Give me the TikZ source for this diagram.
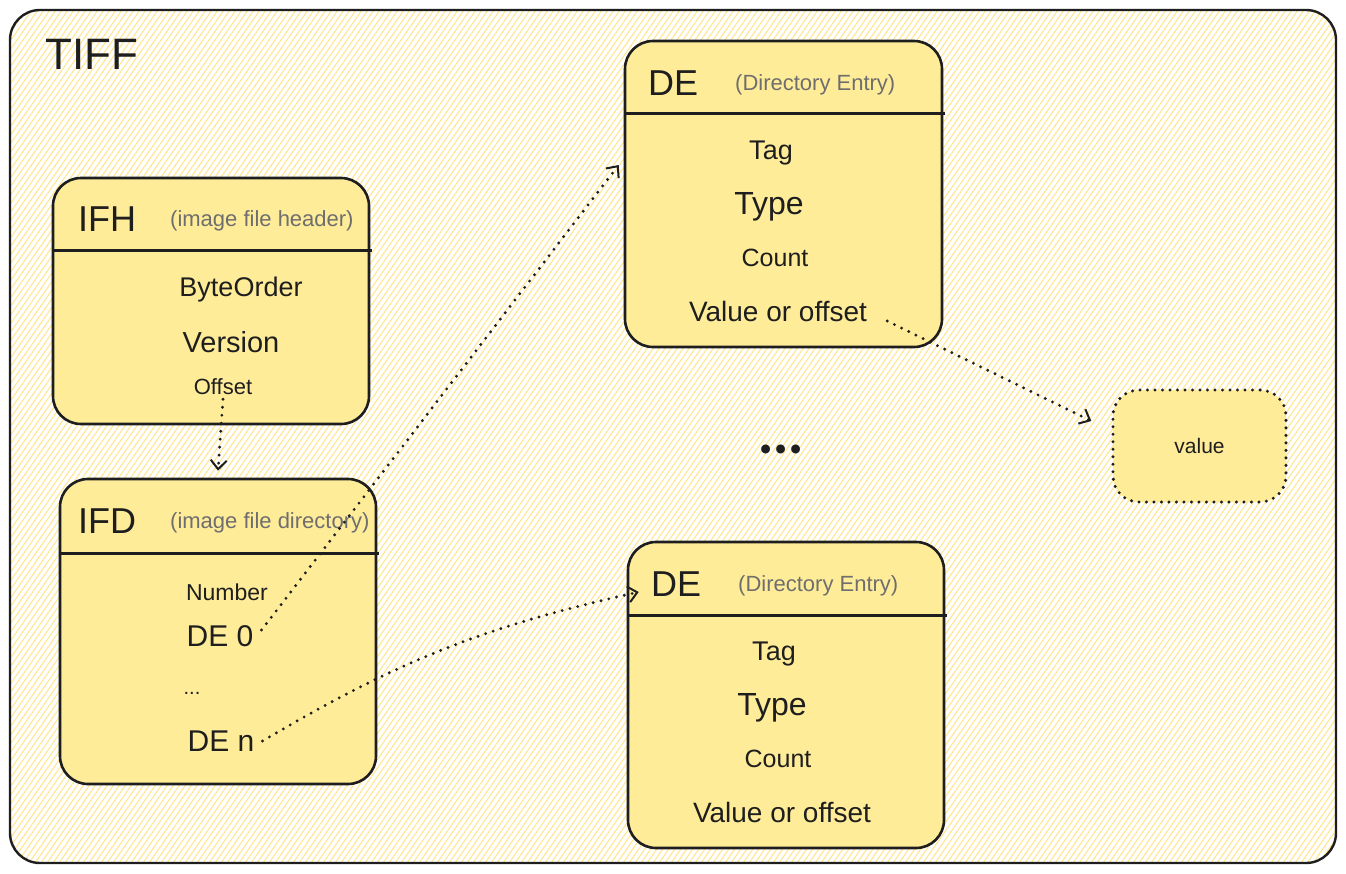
\documentclass[tikz,border=0pt]{standalone}
\usepackage{fontspec}
\setmainfont{Liberation Sans}
\newfontfamily\dotfont{Poppins}
\usetikzlibrary{arrows.meta,calc}
\definecolor{ink}{HTML}{1E1E1E}
\definecolor{fillY}{HTML}{FFEC99}
\definecolor{hatchY}{HTML}{FFE68A}
\definecolor{subgray}{HTML}{6E6E6E}
\begin{document}
\begin{tikzpicture}[x=1pt,y=-1pt,
  hatch/.style={draw=hatchY, line width=1pt},
  frame/.style={draw=ink, line width=2.4pt, rounded corners=30pt},
  box/.style={draw=ink, line width=2.6pt, fill=fillY, rounded corners=28pt, inner sep=0pt},
  vbox/.style={draw=ink, line width=3.4pt, fill=fillY, rounded corners=26pt, inner sep=0pt, dash pattern=on 0pt off 7.5pt, line cap=round},
  sep/.style={draw=ink, line width=2.6pt},
  ttl/.style={font=\fontsize{36}{38}\selectfont, text=ink, anchor=base west, inner sep=0pt},
  sub/.style={font=\fontsize{22}{24}\selectfont, text=subgray, anchor=base west, inner sep=0pt},
  item/.style={text=ink, inner sep=0pt},
  conn/.style={draw=ink, line width=3.2pt, dash pattern=on 0pt off 8pt, line cap=round,
    -{Straight Barb[length=9pt, width=16pt, line width=2pt]}}
]
\useasboundingbox (0,0) rectangle (1346,873);
\fill[white] (0,0) rectangle (1346,873);
\begin{scope}
  \clip[rounded corners=30pt] (10,10) rectangle (1336,863);
  \foreach \i in {-620,-614,...,1346} \draw[hatch] (\i,873) -- ++(611,-873);
\end{scope}
\draw[frame] (10,10) rectangle (1336,863);
\node[ttl, font=\fontsize{44}{46}\selectfont] (tiff) at (45,69) {TIFF};

% IFH
\node[box, minimum width=316pt, minimum height=246pt] (ifh) at (211,301) {};
\draw[sep] ($(ifh.north west)+(0,74)$) -- ($(ifh.north east)+(2,74)$);
\node[ttl] (ifht) at (78,231) {IFH};
\node[sub] (ifhs) at (170,226) {(image file header)};
\node[item, font=\fontsize{27}{29}\selectfont] (byteorder) at (241,290) {ByteOrder};
\node[item, font=\fontsize{29}{31}\selectfont] (version) at (231,342) {Version};
\node[item, font=\fontsize{22}{24}\selectfont] (offset) at (223,387) {Offset};

% IFD
\node[box, minimum width=316pt, minimum height=305pt] (ifd) at (218,631.5) {};
\draw[sep] ($(ifd.north west)+(0,76)$) -- ($(ifd.north east)+(2,76)$);
\node[ttl] (ifdt) at (78,533) {IFD};
\node[sub] (ifds) at (170,528) {(image file directory)};
\node[item, font=\fontsize{23}{25}\selectfont] (number) at (227,592) {Number};
\node[item, font=\fontsize{30}{32}\selectfont] (de0) at (220,636) {DE 0};
\node[item, font=\fontsize{20}{22}\selectfont] (idots) at (192,693) {...};
\node[item, font=\fontsize{30}{32}\selectfont] (den) at (221,741) {DE n};

% DE top
\node[box, minimum width=317pt, minimum height=306pt] (detop) at (783.5,194) {};
\draw[sep] ($(detop.north west)+(0,74)$) -- ($(detop.north east)+(2,74)$);
\node[ttl] (dett) at (648,95) {DE};
\node[sub] (dets) at (735,90) {(Directory Entry)};
\node[item, font=\fontsize{27}{29}\selectfont] (tag1) at (771,153) {Tag};
\node[item, font=\fontsize{32}{34}\selectfont] (type1) at (769,207) {Type};
\node[item, font=\fontsize{25}{27}\selectfont] (count1) at (775,258) {Count};
\node[item, font=\fontsize{28}{30}\selectfont] (valoff1) at (778,311) {Value or offset};

% DE bottom
\node[box, minimum width=316pt, minimum height=306pt] (debot) at (786,695) {};
\draw[sep] ($(debot.north west)+(0,75)$) -- ($(debot.north east)+(2,75)$);
\node[ttl] (debt) at (651,596) {DE};
\node[sub] (debs) at (738,591) {(Directory Entry)};
\node[item, font=\fontsize{27}{29}\selectfont] (tag2) at (774,654) {Tag};
\node[item, font=\fontsize{32}{34}\selectfont] (type2) at (772,708) {Type};
\node[item, font=\fontsize{25}{27}\selectfont] (count2) at (778,759) {Count};
\node[item, font=\fontsize{28}{30}\selectfont] (valoff2) at (782,812) {Value or offset};

% dots
\node[item, font=\dotfont\fontsize{72}{72}\selectfont, anchor=base] (bigdots) at (781,453) {...};

% value
\node[vbox, minimum width=173pt, minimum height=112pt] (value) at (1199.5,446) {};
\node[item, font=\fontsize{21}{23}\selectfont] (valuet) at (value.center) {value};

% connectors
\draw[conn] ([yshift=-4pt]offset.south) -- ([yshift=7pt]ifd.north);
\draw[conn] ([xshift=8pt,yshift=6pt]de0.east) -- ([xshift=-5pt,yshift=29pt]detop.west);
\draw[conn] ([xshift=8pt]den.east) to[bend left=9] ([xshift=12pt,yshift=103pt]debot.west);
\draw[conn] ([xshift=20pt,yshift=-10pt]valoff1.east) -- ([xshift=-20pt,yshift=25pt]value.west);
\end{tikzpicture}
\end{document}
